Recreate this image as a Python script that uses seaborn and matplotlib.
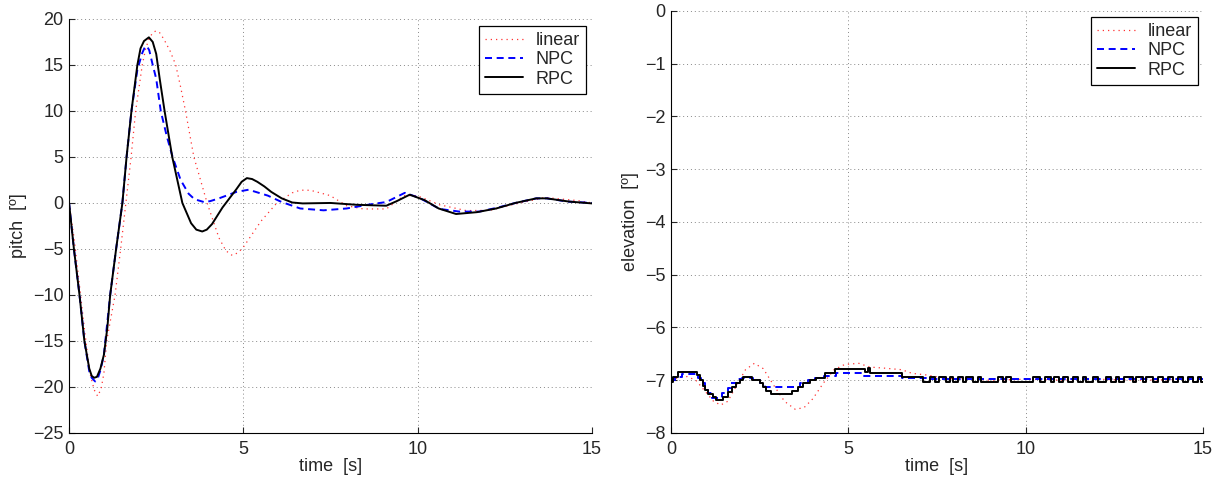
import matplotlib
matplotlib.use("Agg")
import matplotlib.pyplot as plt
import seaborn as sns
import numpy as np

# pitch response [deg]
lin_pitch_t = [0, 0.15, 0.3, 0.45, 0.6, 0.72, 0.82, 0.92, 1.0, 1.08, 1.2, 1.32, 1.48, 1.63, 1.78, 1.91, 2.1, 2.2,
               2.3, 2.4, 2.49, 2.6, 2.72, 2.9, 3.06, 3.2, 3.34, 3.58, 3.96, 4.3, 4.5, 4.68, 4.85, 5.0, 5.5,
               5.96, 6.4, 6.6, 6.77, 6.95, 7.1, 7.49, 7.96, 8.44, 9.1, 9.4, 9.6, 9.98, 10.63, 11.39, 12.06,
               12.7, 13.65, 14.6, 15]
lin_pitch = [0, -4, -9, -14, -18.5, -20.3, -21, -20.2, -18.5, -15, -12.5, -10, -5, 0, 5, 10, 15, 16.8,
             17.9, 18.5, 18.7, 18.5, 17.8, 16.5, 15, 12.6, 10, 5, 0, -3.8, -5.2, -5.7, -5.4, -4.8, -2,
             0, 1.1, 1.35, 1.41, 1.35, 1.2, 0.8, -0.3, -0.65, -0.65, 0.2, 0.8, 0.8, -0.2, -0.83, -0.8,
             -0.2, 0.6, 0.25, 0]

npc_pitch_t = [0, 0.14, 0.3, 0.44, 0.58, 0.65, 0.75, 0.82, 0.9, 1.0, 1.18, 1.35, 1.53, 1.65, 1.79, 1.96, 2.1,
               2.17, 2.23, 2.3, 2.4, 2.5, 2.63, 2.8, 2.97, 3.2, 3.43, 3.6, 3.87, 4.05, 4.3, 4.8, 5.15, 5.7,
               6.1, 6.63, 7.3, 7.96, 8.72, 9.1, 9.63, 10.05, 10.63, 11.2, 11.77, 12.3, 12.8, 13.4, 13.7, 14.3, 15]
npc_pitch = [0, -5, -10, -15, -18.3, -19.0, -19.4, -19.1, -18.2, -16.5, -10, -5, 0, 5, 10, 14.5, 16.3,
             16.9, 17.06, 16.6, 15, 13.5, 10, 7.3, 5, 2.5, 1, 0.4, 0.1, 0.2, 0.5, 1.2, 1.44, 0.8,
             0.1, -0.6, -0.8, -0.6, -0.1, 0.1, 1.1, 0.55, -0.65, -0.94, -0.94, -0.5, 0, 0.5, 0.5, 0.15, 0]

rpc_pitch_t = [0, 0.14, 0.3, 0.44, 0.58, 0.65, 0.72, 0.8, 0.9, 1.0, 1.1, 1.18, 1.35, 1.53, 1.65, 1.79, 1.96,
               2.05, 2.15, 2.29, 2.4, 2.5, 2.6, 2.74, 2.96, 3.25, 3.5, 3.65, 3.82, 3.95, 4.1, 4.25, 4.4, 4.8,
               4.95, 5.1, 5.25, 5.4, 5.6, 5.8, 6.1, 6.4, 6.7, 7.5, 8.25, 9.1, 9.4, 9.77, 10.2, 10.6, 11.1,
               11.7, 12.25, 12.8, 13.4, 13.7, 14.34, 15]
rpc_pitch = [0, -5, -10, -15, -18, -18.8, -19, -18.9, -18, -16.5, -13.5, -10, -5, 0, 5, 10, 15,
             16.8, 17.6, 18, 17.5, 16.2, 13.5, 10, 5, 0, -2.2, -2.9, -3.1, -2.9, -2.3, -1.4, -0.5, 1.5,
             2.3, 2.7, 2.6, 2.3, 1.8, 1.2, 0.5, 0.05, -0.05, 0, -0.2, -0.3, 0.2, 0.9, 0.3, -0.6, -1.2,
             -1.0, -0.6, 0, 0.5, 0.5, 0.15, -0.05]

# elevation response [deg]
lin_elev_t = [0, 0.2, 0.45, 0.7, 0.95, 1.2, 1.4, 1.6, 1.85, 2.1, 2.35, 2.6, 2.9, 3.2, 3.5, 3.75, 4.0, 4.3, 4.6,
              4.9, 5.3, 5.6, 6.0, 6.5, 6.8, 7.2, 7.8, 8.5, 9.0, 10, 11, 12, 13, 15]
lin_elev = [-7.0, -6.95, -6.93, -7.0, -7.2, -7.4, -7.47, -7.4, -7.1, -6.8, -6.68, -6.78, -7.1, -7.4, -7.55,
            -7.52, -7.35, -7.05, -6.8, -6.7, -6.68, -6.75, -6.77, -6.8, -6.87, -6.9, -6.97, -6.97, -7.0,
            -6.98, -7.0, -6.98, -7.0, -6.98]

npc_elev_t = [0, 0.1, 0.3, 0.75, 0.85, 0.95, 1.05, 1.15, 1.45, 1.6, 1.7, 1.85, 2.0, 2.3, 2.5, 2.65, 3.65, 3.85,
              4.05, 4.3, 4.65, 5.45, 6.5, 7.2, 15]
npc_elev = [-7.0, -6.93, -6.88, -6.95, -7.05, -7.15, -7.25, -7.33, -7.25, -7.15, -7.05, -6.98, -6.95, -7.0,
            -7.06, -7.12, -7.05, -7.0, -6.95, -6.92, -6.86, -6.92, -6.95, -6.97, -6.97]

rpc_elev_t = [0, 0.06, 0.21, 0.72, 0.82, 0.89, 0.97, 1.05, 1.17, 1.28, 1.47, 1.61, 1.73, 1.84, 1.94, 2.03,
              2.27, 2.5, 2.6, 2.69, 2.81, 3.4, 3.59, 3.73, 3.92, 4.1, 4.34, 4.62, 5.47, 5.55, 5.6, 6.52, 7.1]
rpc_elev = [-7.03, -6.94, -6.84, -6.9, -7.0, -7.1, -7.18, -7.26, -7.32, -7.38, -7.32, -7.22, -7.13, -7.05,
            -7.0, -6.94, -7.0, -7.06, -7.13, -7.2, -7.26, -7.2, -7.13, -7.06, -7.0, -6.95, -6.87, -6.78,
            -6.84, -6.76, -6.86, -6.94, -7.03]
# quantisation chatter after 7 s: (rise, fall) times between -7.03 and -6.94
rpc_chatter = [(7.29, 7.43), (7.55, 7.74), (7.86, 7.95), (8.09, 8.23), (8.32, 8.51), (8.65, 8.75),
               (9.22, 9.36), (9.45, 9.59), (10.20, 10.39), (10.53, 10.72), (10.81, 10.95), (11.05, 11.19),
               (11.33, 11.47), (11.61, 11.71), (11.89, 12.03), (12.27, 12.41), (12.55, 12.64), (12.78, 13.02),
               (13.11, 13.30), (13.40, 13.58), (13.72, 13.86), (14.01, 14.15), (14.29, 14.43), (14.57, 14.71),
               (14.85, 14.94)]
for up, down in rpc_chatter:
    rpc_elev_t += [up, down]
    rpc_elev += [-6.94, -7.03]
rpc_elev_t.append(15)
rpc_elev.append(-7.03)

sns.set_theme(style="white")
plt.rcParams["font.family"] = ["Liberation Sans", "DejaVu Sans"]
plt.rcParams.update({
    "font.size": 13,
    "xtick.direction": "in", "ytick.direction": "in",
    "xtick.major.size": 4, "ytick.major.size": 4,
    "xtick.major.width": 0.8, "ytick.major.width": 0.8,
    "xtick.bottom": True, "ytick.left": True,
    "xtick.major.pad": 6, "ytick.major.pad": 4,
    "xtick.labelsize": 13, "ytick.labelsize": 13,
    "axes.labelsize": 13,
    "axes.unicode_minus": True,
})

fig = plt.figure(figsize=(12.22, 4.82), dpi=100)
ax1 = fig.add_axes([0.0565, 0.1017, 0.428, 0.859])
ax2 = fig.add_axes([0.5491, 0.1017, 0.4354, 0.8755])

styles = dict(
    linear=dict(color="#ff3333", lw=0.9, dashes=(1, 3.2)),
    NPC=dict(color="#0000ff", lw=1.4, dashes=(3.6, 2.4)),
    RPC=dict(color="black", lw=1.4, linestyle="-"),
)

def draw(ax, t_lin, y_lin, t_npc, y_npc, t_rpc, y_rpc, steps=False):
    ds = "steps-post" if steps else "default"
    ax.plot(t_lin, y_lin, label="linear", **styles["linear"])
    sns.lineplot(x=t_npc, y=y_npc, ax=ax, sort=False, label="NPC", drawstyle=ds, **styles["NPC"])
    sns.lineplot(x=t_rpc, y=y_rpc, ax=ax, sort=False, label="RPC", drawstyle=ds, **styles["RPC"])
    ax.set_xlim(0, 15)
    ax.set_xticks([0, 5, 10, 15])
    ax.grid(True, linestyle=(0, (1, 3)), color="#888888", linewidth=0.7)
    for s in ["top", "right"]:
        ax.spines[s].set_visible(False)
    for s in ["left", "bottom"]:
        ax.spines[s].set_color("black")
        ax.spines[s].set_linewidth(0.8)
    ax.set_xlabel("time  [s]", labelpad=0)

draw(ax1, lin_pitch_t, lin_pitch, npc_pitch_t, npc_pitch, rpc_pitch_t, rpc_pitch)
ax1.set_ylim(-25, 20)
ax1.set_yticks(np.arange(-25, 21, 5))
ax1.set_ylabel("pitch  [º]", labelpad=4)

draw(ax2, lin_elev_t, lin_elev, npc_elev_t, npc_elev, rpc_elev_t, rpc_elev, steps=True)
ax2.set_ylim(-8, 0)
ax2.set_yticks(np.arange(-8, 1, 1))
ax2.set_ylabel("elevation  [º]", labelpad=4)

for ax, anchor in [(ax1, (0.9885, 0.983)), (ax2, (0.9906, 0.986))]:
    leg = ax.legend(loc="upper right", bbox_to_anchor=anchor, borderaxespad=0, fancybox=False,
                    framealpha=1, edgecolor="black", handlelength=2.1, handletextpad=0.7,
                    labelspacing=0.12, borderpad=0.35, fontsize=13)
    leg.get_frame().set_linewidth(0.9)

fig.savefig("out.png", dpi=100)
